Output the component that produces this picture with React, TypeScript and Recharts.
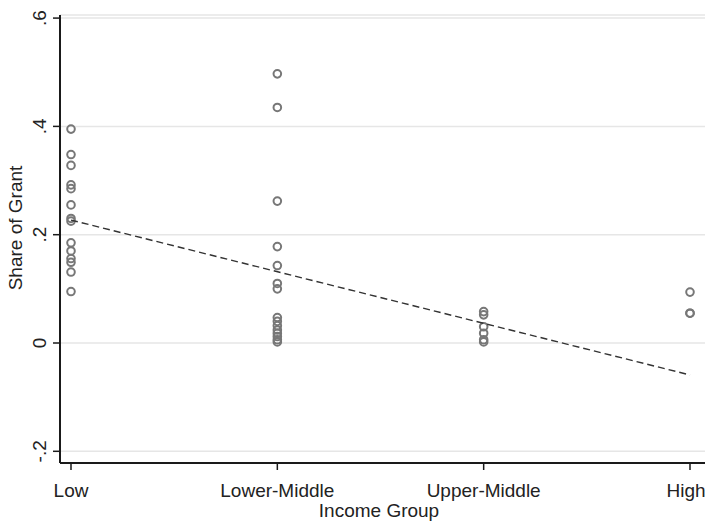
import React from 'react';
import { ScatterChart, Scatter, XAxis, YAxis, CartesianGrid } from 'recharts';

const groups = ['Low', 'Lower-Middle', 'Upper-Middle', 'High'];

const lowShares = [0.395, 0.348, 0.328, 0.292, 0.285, 0.255, 0.23, 0.225, 0.185, 0.17, 0.156, 0.149, 0.131, 0.095];
const lowerMidShares = [0.497, 0.435, 0.262, 0.178, 0.143, 0.11, 0.1, 0.047, 0.04, 0.032, 0.024, 0.018, 0.012, 0.006, 0.002];
const upperMidShares = [0.058, 0.052, 0.03, 0.018, 0.006, 0.002];
const highShares = [0.094, 0.055, 0.055];

const fitX = [1, 4];
const fitY = [0.227, -0.059];

const yTicks = [-0.2, 0, 0.2, 0.4, 0.6];
const xTicks = [1, 2, 3, 4];

const FONT = '"Liberation Sans", Arial, Helvetica, sans-serif';
const AXIS = '#1a1a1a';
const MARKER = '#777777';

const points = [lowShares, lowerMidShares, upperMidShares, highShares].flatMap((vals, i) =>
  vals.map(v => ({ x: i + 1, y: v }))
);
const fitLine = fitX.map((x, i) => ({ x, y: fitY[i] }));

const fmtY = (v: number) => {
  if (v === 0) return '0';
  return v < 0 ? '-' + String(Math.abs(v)).replace(/^0/, '') : String(v).replace(/^0/, '');
};

const YTick = ({ y, payload }: any) => (
  <g>
    <line x1={53} x2={60} y1={y} y2={y} stroke={AXIS} strokeWidth={1.5} />
    <text
      transform={`translate(46,${y}) rotate(-90)`}
      textAnchor="middle"
      fontFamily={FONT}
      fontSize={19}
      fill="#222"
    >
      {fmtY(payload.value)}
    </text>
  </g>
);

const XTick = ({ x, payload }: any) => (
  <g>
    <line x1={x} x2={x} y1={463} y2={470} stroke={AXIS} strokeWidth={1.5} />
    <text x={Math.min(x, 686)} y={497} textAnchor="middle" fontFamily={FONT} fontSize={19} fill="#222">
      {groups[payload.value - 1]}
    </text>
  </g>
);

const Ring = ({ cx, cy }: any) => (
  <circle cx={cx} cy={cy} r={3.8} fill="none" stroke={MARKER} strokeWidth={2} />
);

export default function App() {
  return (
    <div style={{ position: 'absolute', left: 0, top: 0, width: 708, height: 523, background: '#fff' }}>
      <ScatterChart width={708} height={523} margin={{ top: 15, right: 3, bottom: 0, left: 0 }}>
        <CartesianGrid horizontal vertical={false} stroke="#e6e6e6" strokeWidth={1.5} />
        <XAxis
          type="number"
          dataKey="x"
          domain={[0.9467, 4.0727]}
          ticks={xTicks}
          height={60}
          tick={<XTick />}
          tickLine={false}
          axisLine={{ stroke: AXIS, strokeWidth: 2 }}
          allowDataOverflow
        />
        <YAxis
          type="number"
          dataKey="y"
          domain={[-0.2216, 0.6057]}
          ticks={yTicks}
          width={60}
          tick={<YTick />}
          tickLine={false}
          axisLine={{ stroke: AXIS, strokeWidth: 2 }}
          allowDataOverflow
        />
        <Scatter data={points} shape={<Ring />} isAnimationActive={false} />
        <Scatter
          data={fitLine}
          line={{ stroke: '#333', strokeWidth: 1.4, strokeDasharray: '7 4' }}
          shape={() => <g />}
          isAnimationActive={false}
        />
        <text
          transform="translate(22,228) rotate(-90)"
          textAnchor="middle"
          fontFamily={FONT}
          fontSize={19}
          fill="#222"
        >
          Share of Grant
        </text>
        <text x={379} y={517} textAnchor="middle" fontFamily={FONT} fontSize={19} fill="#222">
          Income Group
        </text>
      </ScatterChart>
    </div>
  );
}
